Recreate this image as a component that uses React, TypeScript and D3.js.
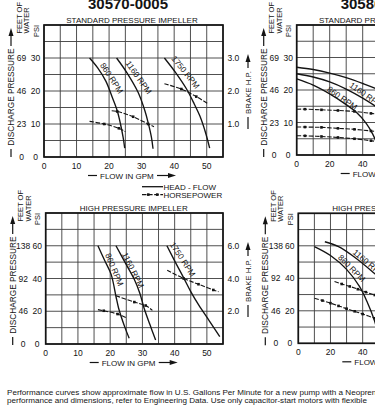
import React from "react";
import * as d3 from "d3";

type Pt = [number, number];

// ---------- tick labels ----------
const flowTicksA = [0, 10, 20, 30, 40, 50];
const flowTicksB = [0, 20, 40, 60, 80, 100];
const stdPsiTicks = [0, 10, 20, 30];
const stdFeetTicks = ["0", "23", "46", "69"];
const stdHpTicks = [1, 2, 3];
const highPsiTicks = [0, 20, 40, 60];
const highFeetTicks = ["0", "46", "92", "138"];
const highHpTicks = [2, 4, 6];
const rpmNames = ["860 RPM", "1160 RPM", "1750 RPM"];

// ---------- 30570-0005, standard pressure impeller ----------
const headA_std_860: Pt[] = [[14, 30], [16.5, 27], [19, 23], [21, 18], [22.5, 14], [23.5, 10], [24.3, 6], [24.8, 2.7]];
const headA_std_1160: Pt[] = [[22.3, 30], [25.5, 25.5], [28.9, 19.6], [31, 14], [32, 10.4], [33, 6], [33.5, 2.5]];
const headA_std_1750: Pt[] = [[37, 30], [40.5, 25.5], [43.8, 20.6], [46.2, 16], [47.9, 12.4], [49.6, 7.5], [50.9, 2.7]];
const hpA_std_860: Pt[] = [[14, 1.08], [18.5, 1.0], [23, 0.87], [25, 0.77]];
const hpA_std_1160: Pt[] = [[20.8, 1.4], [22.5, 1.38], [27.4, 1.22], [32, 1.0], [33.8, 0.92]];
const hpA_std_1750: Pt[] = [[37, 2.22], [42.2, 2.06], [46.8, 1.83], [50.6, 1.6]];

// ---------- 30570-0005, high pressure impeller ----------
const headA_high_860: Pt[] = [[16.2, 60], [18.3, 51], [20.3, 42.5], [21.8, 29], [22.6, 22], [23.4, 16.8], [24.6, 10], [25.9, 3.5]];
const headA_high_1160: Pt[] = [[21.8, 60], [24.7, 49.5], [27.5, 39.4], [29.2, 31], [30.5, 22], [32.3, 12], [34.1, 2.5]];
const headA_high_1750: Pt[] = [[37.6, 60], [40.2, 50], [42.8, 40.4], [45, 32], [47.4, 24], [50.8, 14], [54, 4.5]];
const hpA_high_860: Pt[] = [[16.2, 2.1], [18, 2.03], [22.3, 1.83], [25, 1.6]];
const hpA_high_1160: Pt[] = [[21.8, 2.95], [27.5, 2.56], [31, 2.35], [33.1, 2.05]];
const hpA_high_1750: Pt[] = [[37.7, 4.5], [42.8, 4.0], [47.4, 3.65], [52, 3.3], [53.6, 3.2]];

// ---------- 30580, standard pressure impeller ----------
const headB_std_1750: Pt[] = [[0, 27], [10, 26.3], [20, 25.2], [30, 23.8], [40, 22], [50, 20], [60, 17.5], [70, 14.5]];
const headB_std_1160: Pt[] = [[0, 25], [10, 24], [20, 22.5], [30, 20.3], [40, 17.5], [50, 14.2], [60, 10]];
const headB_std_860: Pt[] = [[0, 23.4], [10, 21.5], [20, 18.8], [30, 15.5], [36, 13.2], [42, 9.8], [46, 6.5], [49, 3]];
const hpB_std_1750: Pt[] = [[0, 1.41], [5, 1.41], [15, 1.39], [25, 1.37], [35, 1.34], [45, 1.28], [55, 1.22], [65, 1.14]];
const hpB_std_1160: Pt[] = [[0, 0.86], [5, 0.86], [15, 0.85], [25, 0.82], [35, 0.79], [45, 0.74], [55, 0.68]];
const hpB_std_860: Pt[] = [[0, 0.59], [5, 0.59], [15, 0.57], [25, 0.54], [35, 0.5], [45, 0.44], [52, 0.39]];

// ---------- 30580, high pressure impeller ----------
const headB_high_1160: Pt[] = [[16.5, 62.5], [25, 59.5], [35, 53], [45, 45], [55, 36], [65, 25]];
const headB_high_860: Pt[] = [[10, 59.5], [20, 54], [30, 45.5], [38, 35], [43, 25], [47, 15], [49, 8], [50, 3]];
const hpB_high_1160: Pt[] = [[22.5, 3.8], [27, 3.65], [32, 3.5], [37, 3.33], [42, 3.15], [47.5, 2.97], [55, 2.7]];
const hpB_high_860: Pt[] = [[10, 2.77], [15, 2.63], [20, 2.47], [25, 2.3], [30, 2.13], [35, 1.97], [40, 1.8], [47.5, 1.54], [52, 1.4]];

// rpm label anchors (flow, pressure) and slant
const lblA_std: [number, Pt, number][] = [[0, [20.8, 23.9], 57], [1, [29.1, 24.1], 55], [2, [43.5, 25.7], 51]];
const lblA_high: [number, Pt, number][] = [[0, [21.3, 45.5], 67], [1, [27.1, 45.1], 63], [2, [42.5, 51.7], 57]];
const lblB_std: [number, Pt, number][] = [[0, [27.6, 17.5], 35], [1, [42.2, 18.4], 35]];
const lblB_high: [number, Pt, number][] = [[0, [33.2, 46.2], 45], [1, [43.8, 49.2], 40]];

const footer1 = "Performance curves show approximate flow in U.S. Gallons Per Minute for a new pump with a Neoprene impeller.";
const footer2 = "performance and dimensions, refer to Engineering Data.  Use only capacitor-start motors with flexible";

const INK = "#141414";
const GRID = "#3c3c3c";
const FONT = "'Liberation Sans', Arial, Helvetica, sans-serif";

type PanelProps = {
  left: number; top: number; width: number; height: number;
  xMax: number; yMax: number; xStep: number; yStep: number;
  xTicks: number[]; psiTicks: number[]; feetTicks: string[]; hpTicks: number[];
  heads: Pt[][]; hps: Pt[][]; labels: [number, Pt, number][];
  title?: string; subtitle: string; legend?: boolean;
};

function Panel(p: PanelProps) {
  const { left, top, width, height } = p;
  const right = left + width;
  const bottom = top + height;
  const x = d3.scaleLinear().domain([0, p.xMax]).range([left, right]);
  const y = d3.scaleLinear().domain([0, p.yMax]).range([bottom, top]);
  const hp = d3.scaleLinear().domain([0, p.yMax / 10]).range([bottom, top]);
  const headLine = d3.line<Pt>().x(d => x(d[0])).y(d => y(d[1])).curve(d3.curveCatmullRom.alpha(0.5));
  const hpLine = d3.line<Pt>().x(d => x(d[0])).y(d => hp(d[1])).curve(d3.curveCatmullRom.alpha(0.5));
  const vGrid = d3.range(0, p.xMax + 0.001, p.xStep);
  const hGrid = d3.range(0, p.yMax + 0.001, p.yStep);
  const fs = 8.5;
  const flowY = bottom + 21.5;
  return (
    <g fontFamily={FONT} fill={INK}>
      {p.title && (
        <text x={left + 84} y={top - 16.5} textAnchor="middle" fontSize={15} fontWeight="bold">{p.title}</text>
      )}
      <text x={left + 88} y={top - 2} textAnchor="middle" fontSize={8}>{p.subtitle}</text>
      {/* grid */}
      {vGrid.map(v => (
        <line key={"v" + v} x1={x(v)} x2={x(v)} y1={top} y2={bottom} stroke={GRID} strokeWidth={0.9} />
      ))}
      {hGrid.map(v => (
        <line key={"h" + v} x1={left} x2={right} y1={y(v)} y2={y(v)} stroke={GRID} strokeWidth={0.9} />
      ))}
      <rect x={left} y={top} width={width} height={height} fill="none" stroke={INK} strokeWidth={1.7} />
      {/* x ticks */}
      {p.xTicks.map(t => (
        <text key={"xt" + t} x={x(t)} y={bottom + 12} textAnchor="middle" fontSize={fs}>{t}</text>
      ))}
      {/* left ticks: psi inner, feet outer */}
      {p.psiTicks.map((t, i) => (
        <g key={"yt" + t}>
          <text x={left - 8.5} y={y(t) + 3} textAnchor="middle" fontSize={fs}>{t}</text>
          <text x={left - 22.5} y={y(t) + 3} textAnchor="middle" fontSize={fs}>{p.feetTicks[i]}</text>
        </g>
      ))}
      {/* right ticks: brake hp */}
      {p.hpTicks.map(t => (
        <text key={"hp" + t} x={right + 4.5} y={hp(t) + 3} fontSize={fs}>{t.toFixed(1)}</text>
      ))}
      {/* curves */}
      {p.heads.map((c, i) => (
        <path key={"hd" + i} d={headLine(c) || ""} fill="none" stroke={INK} strokeWidth={1.35} />
      ))}
      {p.hps.map((c, i) => (
        <g key={"hpc" + i}>
          <path d={hpLine(c) || ""} fill="none" stroke={INK} strokeWidth={1.1} strokeDasharray="4.5 1.6" />
          {c.slice(1, -1).map((d, j) => (
            <rect key={j} x={x(d[0]) - 1.3} y={hp(d[1]) - 1.3} width={2.6} height={2.6} fill={INK} />
          ))}
        </g>
      ))}
      {p.labels.map(([k, at, ang], i) => (
        <text key={"lb" + i} transform={`translate(${x(at[0])},${y(at[1])}) rotate(${ang})`} textAnchor="middle" dy="0.35em" fontSize={8.3}>
          {rpmNames[k]}
        </text>
      ))}
      {/* flow axis title */}
      <line x1={left + 44} x2={left + 53} y1={flowY - 3} y2={flowY - 3} stroke={INK} strokeWidth={1.2} />
      <text x={left + 56} y={flowY} fontSize={8}>FLOW IN GPM</text>
      <line x1={left + 113} x2={left + 125} y1={flowY - 3} y2={flowY - 3} stroke={INK} strokeWidth={1.2} />
      <path d={`M${left + 124},${flowY - 5.5} L${left + 132},${flowY - 3} L${left + 124},${flowY - 0.5} Z`} fill={INK} />
      {/* left vertical titles */}
      <text transform={`translate(${left - 30},${top + 72}) rotate(-90)`} textAnchor="middle" fontSize={8.3}>DISCHARGE PRESSURE</text>
      <line x1={left - 33} x2={left - 33} y1={top + 124} y2={top + 132} stroke={INK} strokeWidth={1.2} />
      <line x1={left - 33} x2={left - 33} y1={top + 21} y2={top + 10} stroke={INK} strokeWidth={1.2} />
      <path d={`M${left - 35.5},${top + 11} L${left - 33},${top + 3} L${left - 30.5},${top + 11} Z`} fill={INK} />
      <text transform={`translate(${left - 22.5},${top + 8.5}) rotate(-90)`} fontSize={7.5}>FEET OF</text>
      <text transform={`translate(${left - 15},${top + 8.5}) rotate(-90)`} fontSize={7.5}>WATER</text>
      <text transform={`translate(${left - 5.5},${top + 12}) rotate(-90)`} fontSize={7.5}>PSI</text>
      {/* right vertical title */}
      <text transform={`translate(${right + 28},${top + 67.5}) rotate(-90)`} textAnchor="middle" fontSize={7.8}>BRAKE H.P.</text>
      <line x1={right + 25} x2={right + 25} y1={top + 92} y2={top + 104} stroke={INK} strokeWidth={1.2} />
      <line x1={right + 25} x2={right + 25} y1={top + 43} y2={top + 36} stroke={INK} strokeWidth={1.2} />
      <path d={`M${right + 22.5},${top + 37} L${right + 25},${top + 29} L${right + 27.5},${top + 37} Z`} fill={INK} />
      {p.legend && (
        <g>
          <line x1={left + 98} x2={left + 119} y1={bottom + 29.7} y2={bottom + 29.7} stroke={INK} strokeWidth={1.3} />
          <text x={left + 119.5} y={bottom + 32.7} fontSize={8}>HEAD - FLOW</text>
          <line x1={left + 98} x2={left + 119} y1={bottom + 37.6} y2={bottom + 37.6} stroke={INK} strokeWidth={1.1} strokeDasharray="4.5 1.6" />
          <rect x={left + 103} y={bottom + 36.3} width={2.6} height={2.6} fill={INK} />
          <rect x={left + 112} y={bottom + 36.3} width={2.6} height={2.6} fill={INK} />
          <text x={left + 119.5} y={bottom + 40.7} fontSize={8}>HORSEPOWER</text>
        </g>
      )}
    </g>
  );
}

export default function App() {
  return (
    <svg width={375} height={408} viewBox="0 0 375 408" style={{ position: "absolute", left: 0, top: 0, background: "#fff" }}>
      <rect x={0} y={0} width={375} height={408} fill="#fff" />
      <Panel left={44} top={25} width={179} height={132} xMax={55} yMax={40} xStep={5} yStep={5}
        xTicks={flowTicksA} psiTicks={stdPsiTicks} feetTicks={stdFeetTicks} hpTicks={stdHpTicks}
        heads={[headA_std_860, headA_std_1160, headA_std_1750]} hps={[hpA_std_860, hpA_std_1160, hpA_std_1750]}
        labels={lblA_std} title="30570-0005" subtitle="STANDARD PRESSURE IMPELLER" legend />
      <Panel left={45.7} top={213} width={177.3} height={131} xMax={55} yMax={80} xStep={5} yStep={10}
        xTicks={flowTicksA} psiTicks={highPsiTicks} feetTicks={highFeetTicks} hpTicks={highHpTicks}
        heads={[headA_high_860, headA_high_1160, headA_high_1750]} hps={[hpA_high_860, hpA_high_1160, hpA_high_1750]}
        labels={lblA_high} subtitle="HIGH PRESSURE IMPELLER" />
      <Panel left={296.7} top={25} width={181.5} height={130} xMax={110} yMax={40} xStep={10} yStep={5}
        xTicks={flowTicksB} psiTicks={stdPsiTicks} feetTicks={stdFeetTicks} hpTicks={stdHpTicks}
        heads={[headB_std_1750, headB_std_1160, headB_std_860]} hps={[hpB_std_1750, hpB_std_1160, hpB_std_860]}
        labels={lblB_std} title="30580-0005" subtitle="STANDARD PRESSURE IMPELLER" />
      <Panel left={298.3} top={213.3} width={177} height={130} xMax={110} yMax={80} xStep={10} yStep={10}
        xTicks={flowTicksB} psiTicks={highPsiTicks} feetTicks={highFeetTicks} hpTicks={highHpTicks}
        heads={[headB_high_1160, headB_high_860]} hps={[hpB_high_1160, hpB_high_860]}
        labels={lblB_high} subtitle="HIGH PRESSURE IMPELLER" />
      <text x={7} y={395} fontSize={8.1} fontFamily={FONT} fill={INK}>{footer1}</text>
      <text x={7} y={403.2} fontSize={8.1} fontFamily={FONT} fill={INK}>{footer2}</text>
    </svg>
  );
}
